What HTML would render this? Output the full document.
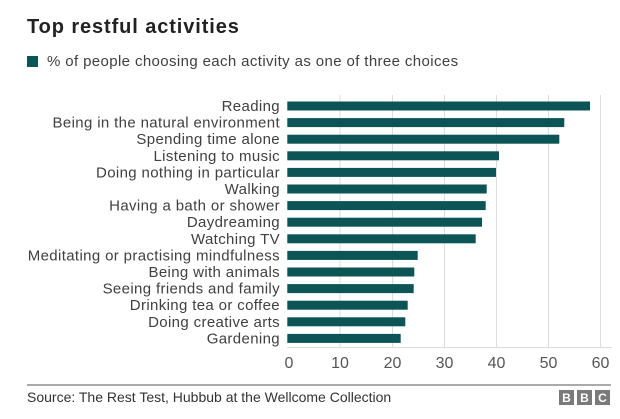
<!DOCTYPE html>
<html><head><style>
body{margin:0;width:620px;height:414px;background:#fff;font-family:"Liberation Sans",Arial,sans-serif;overflow:hidden}
</style></head><body>
<svg width="620" height="414" xmlns="http://www.w3.org/2000/svg" font-family="Liberation Sans, Arial, sans-serif">
<text x="27" y="33" font-size="20" font-weight="bold" fill="#222" letter-spacing="0.9">Top restful activities</text>
<rect x="27" y="56" width="11" height="11" fill="#0c5455"/>
<text x="47" y="66" font-size="15" fill="#404040" letter-spacing="0.38">% of people choosing each activity as one of three choices</text>
<g stroke="#dcdcdc" stroke-width="1">
<line x1="340" y1="95" x2="340" y2="347"/><line x1="392.5" y1="95" x2="392.5" y2="347"/>
<line x1="444.5" y1="95" x2="444.5" y2="347"/><line x1="496.5" y1="95" x2="496.5" y2="347"/>
<line x1="548.5" y1="95" x2="548.5" y2="347"/><line x1="600.5" y1="95" x2="600.5" y2="347"/>
<line x1="287" y1="347.5" x2="612" y2="347.5"/>
</g>
<g fill="#0c5455">
<rect x="287.3" y="101.5" width="302.7" height="9"/>
<rect x="287.3" y="118.1" width="277" height="9"/>
<rect x="287.3" y="134.7" width="272" height="9"/>
<rect x="287.3" y="151.3" width="211.7" height="9"/>
<rect x="287.3" y="167.9" width="208.7" height="9"/>
<rect x="287.3" y="184.5" width="199.4" height="9"/>
<rect x="287.3" y="201.1" width="198.4" height="9"/>
<rect x="287.3" y="217.7" width="194.7" height="9"/>
<rect x="287.3" y="234.3" width="188.4" height="9"/>
<rect x="287.3" y="250.9" width="130.4" height="9"/>
<rect x="287.3" y="267.5" width="127" height="9"/>
<rect x="287.3" y="284.1" width="126.4" height="9"/>
<rect x="287.3" y="300.7" width="120.4" height="9"/>
<rect x="287.3" y="317.3" width="118" height="9"/>
<rect x="287.3" y="333.9" width="113.4" height="9"/>
</g>
<g font-size="15" fill="#404040" text-anchor="end" letter-spacing="0.36">
<text x="280" y="111">Reading</text>
<text x="280" y="127.6">Being in the natural environment</text>
<text x="280" y="144.2">Spending time alone</text>
<text x="280" y="160.8">Listening to music</text>
<text x="280" y="177.4">Doing nothing in particular</text>
<text x="280" y="194">Walking</text>
<text x="280" y="210.6">Having a bath or shower</text>
<text x="280" y="227.2">Daydreaming</text>
<text x="280" y="243.8">Watching TV</text>
<text x="280" y="260.4">Meditating or practising mindfulness</text>
<text x="280" y="277">Being with animals</text>
<text x="280" y="293.6">Seeing friends and family</text>
<text x="280" y="310.2">Drinking tea or coffee</text>
<text x="280" y="326.8">Doing creative arts</text>
<text x="280" y="343.4">Gardening</text>
</g>
<g font-size="16" fill="#555" text-anchor="middle">
<text x="289" y="368">0</text><text x="340" y="368">10</text><text x="392.5" y="368">20</text>
<text x="444.5" y="368">30</text><text x="496.5" y="368">40</text><text x="548.5" y="368">50</text><text x="600.5" y="368">60</text>
</g>
<line x1="27" y1="385" x2="611" y2="385" stroke="#555" stroke-width="1"/>
<text x="27" y="402" font-size="14" fill="#333">Source: The Rest Test, Hubbub at the Wellcome Collection</text>
<g fill="#7a7a7a"><rect x="559" y="390" width="15" height="15"/><rect x="577" y="390" width="15" height="15"/><rect x="595" y="390" width="15" height="15"/></g>
<g font-size="12" font-weight="bold" fill="#fff" text-anchor="middle">
<text x="566.5" y="402">B</text><text x="584.5" y="402">B</text><text x="602.5" y="402">C</text></g>
</svg>
</body></html>
